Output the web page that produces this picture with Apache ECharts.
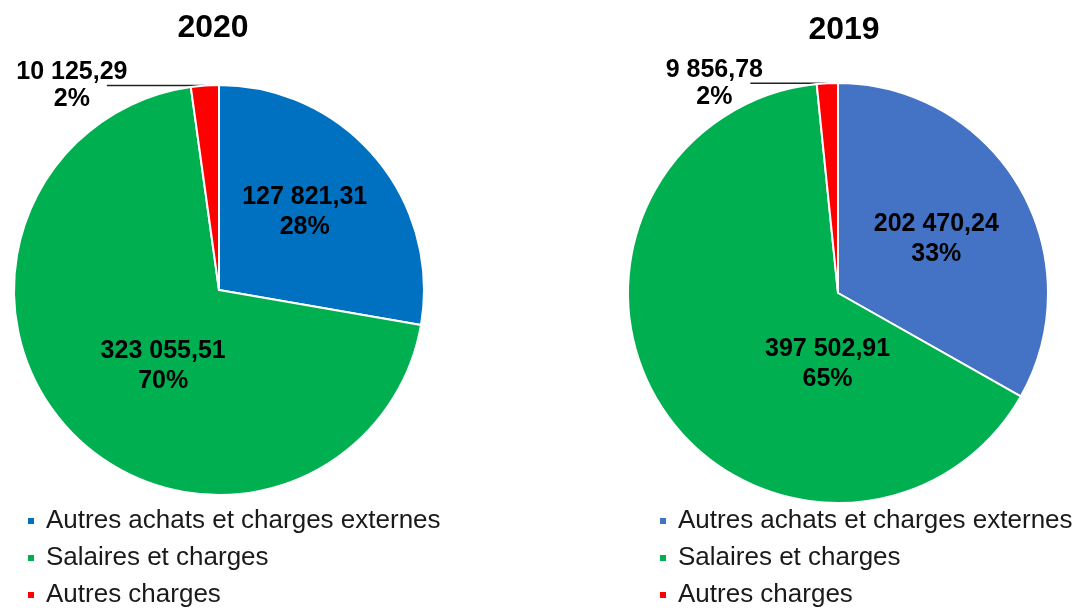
<!DOCTYPE html>
<html>
<head>
<meta charset="utf-8">
<script src="https://cdn.jsdelivr.net/npm/echarts@6/dist/echarts.min.js"></script>
<style>
  html, body { margin: 0; padding: 0; background: #fff; }
  #chart { width: 1074px; height: 611px; }
</style>
</head>
<body>
<div id="chart"></div>
<script>
// catégories et valeurs des deux camemberts
const categories = ['Autres achats et charges externes', 'Salaires et charges', 'Autres charges'];
const values2020 = [127821.31, 323055.51, 10125.29];
const values2019 = [202470.24, 397502.91, 9856.78];
const years = ['2020', '2019'];

const colors2020 = ['#0070C0', '#00B050', '#FF0000'];
const colors2019 = ['#4472C4', '#00B050', '#FF0000'];

const FONT = 'Liberation Sans, Arial, sans-serif';

// format français : 127 821,31
function frNumber(v) {
  let parts = v.toFixed(2).split('.');
  parts[0] = parts[0].replace(/\B(?=(\d{3})+(?!\d))/g, ' ');
  return parts[0] + ',' + parts[1];
}

// opts : réglages des étiquettes (décalages intérieurs, trait de la petite part)
function pieSeries(values, colors, center, radius, opts) {
  let data = values.map((v, i) => {
    let item = { name: categories[i], value: v, itemStyle: { color: colors[i] } };
    if (i === 2) {
      // petite part : étiquette extérieure avec trait
      item.label = {
        position: 'outside',
        distanceToLabelLine: opts.textDist,
        formatter: p => '{v|' + frNumber(p.value) + '}\n{v|' + Math.round(p.percent) + '%}'
      };
      item.labelLine = { show: true, length: 0, length2: opts.lineLen, lineStyle: { color: '#222', width: 1.3 } };
    }
    return item;
  });
  return {
    type: 'pie',
    center: center,
    radius: radius,
    startAngle: 90,
    clockwise: true,
    avoidLabelOverlap: false,
    itemStyle: { borderColor: '#fff', borderWidth: 2 },
    label: {
      show: true,
      position: 'inside',
      color: '#000',
      fontWeight: 'bold',
      fontSize: 25,
      fontFamily: FONT,
      lineHeight: 30,
      formatter: p => frNumber(p.value) + '\n' + Math.round(p.percent) + '%',
      rich: {
        v: { color: '#000', fontWeight: 'bold', fontSize: 25, lineHeight: 27, width: opts.boxWidth,
             align: 'center', fontFamily: FONT }
      }
    },
    labelLine: { show: false },
    labelLayout: p => (opts.shift[p.dataIndex] ? { dx: opts.shift[p.dataIndex][0], dy: opts.shift[p.dataIndex][1] } : {}),
    emphasis: { scale: false },
    data: data
  };
}

function legendFor(left, colors) {
  return {
    orient: 'vertical',
    left: left,
    top: 508,
    padding: 0,
    icon: 'rect',
    itemWidth: 8,
    itemHeight: 8,
    itemGap: 11,
    selectedMode: false,
    textStyle: {
      fontSize: 26,
      color: '#1a1a1a',
      fontFamily: FONT,
      padding: [0, 0, 0, 6]
    },
    data: categories.map((c, i) => ({ name: c, itemStyle: { color: colors[i] } }))
  };
}

let chart = echarts.init(document.getElementById('chart'));
let option = {
  animation: false,
  backgroundColor: '#fff',
  title: [
    { text: years[0], left: 208, top: 7, textAlign: 'center',
      textStyle: { fontSize: 32, fontWeight: 'bold', color: '#000', fontFamily: FONT } },
    { text: years[1], left: 839, top: 9, textAlign: 'center',
      textStyle: { fontSize: 32, fontWeight: 'bold', color: '#000', fontFamily: FONT } }
  ],
  legend: [legendFor(26, colors2020), legendFor(658, colors2019)],
  series: [
    pieSeries(values2020, colors2020, [219, 290], 205,
      { textDist: -21, lineLen: 98, boxWidth: 112, shift: [[5, -10], [20, 3]] }),
    pieSeries(values2019, colors2019, [838, 293], 210,
      { textDist: -13, lineLen: 77, boxWidth: 98, shift: [[5, 0], [80, 12]] })
  ]
};
chart.setOption(option);
</script>
</body>
</html>
